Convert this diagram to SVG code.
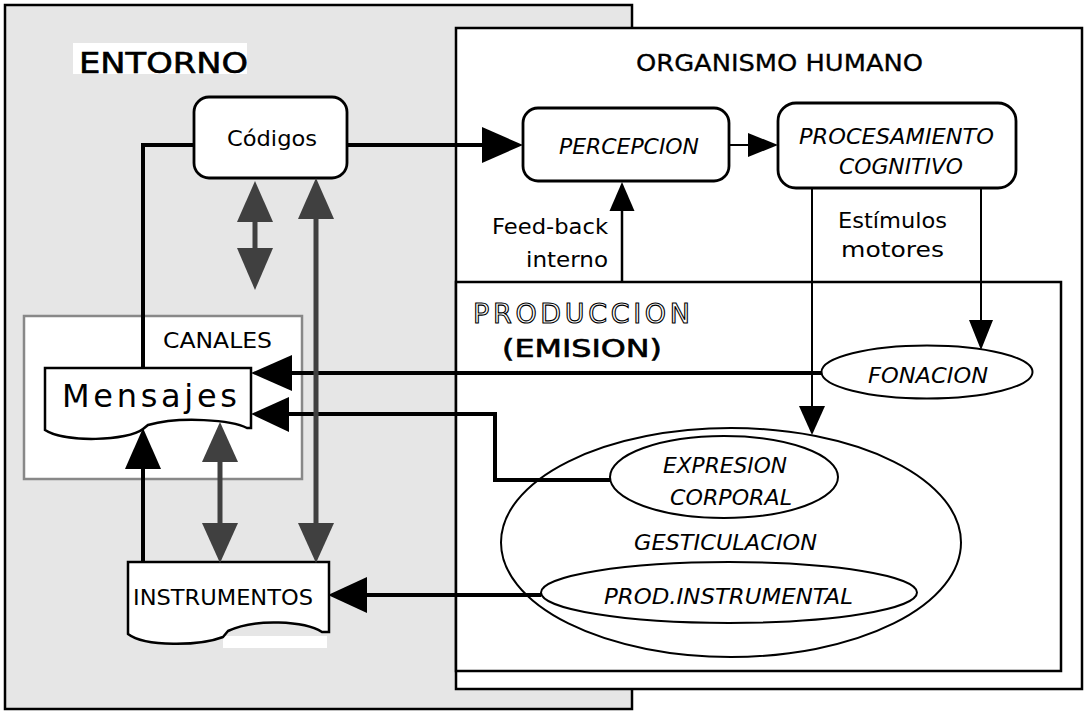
<svg xmlns="http://www.w3.org/2000/svg" width="1088" height="712" viewBox="0 0 1088 712">
<style>
text { font-family: "DejaVu Sans", "Liberation Sans", sans-serif; fill: #000; }
.it { font-style: italic; }
.semi { stroke: #000; stroke-width: 0.6; }
.outline { fill: #fff; stroke: #000; stroke-width: 1.1; }
.box { fill: #fff; stroke: #000; stroke-width: 2.8; }
.ell { fill: #fff; stroke: #000; stroke-width: 2; }
.thick { fill: none; stroke: #000; stroke-width: 4; }
.thin { fill: none; stroke: #000; stroke-width: 2; }
.gray { fill: none; stroke: #404040; stroke-width: 5; }
.head { fill: #000; }
.ghead { fill: #404040; }
</style>

<g id="entorno">
  <rect x="5" y="5" width="627" height="704" fill="#e6e6e6" stroke="#000" stroke-width="2.5"/>
  <rect x="73" y="43" width="174" height="31" fill="#fff"/>
  <text x="79" y="73" font-size="28" class="semi" textLength="169" lengthAdjust="spacingAndGlyphs">ENTORNO</text>
</g>

<g id="organismo">
  <rect x="456" y="28" width="626" height="661" fill="#fff" stroke="#000" stroke-width="2.5"/>
  <text x="636" y="71" font-size="23" class="semi" style="stroke-width:0.3" textLength="287" lengthAdjust="spacingAndGlyphs">ORGANISMO HUMANO</text>
</g>

<g id="produccion">
  <rect x="456" y="282" width="605" height="389" fill="#fff" stroke="#000" stroke-width="2.5"/>
  <text x="473" y="323" font-size="27" class="outline" textLength="217" lengthAdjust="spacing">PRODUCCION</text>
  <text x="502" y="357" font-size="24" class="semi" textLength="160" lengthAdjust="spacingAndGlyphs">(EMISION)</text>
</g>

<g id="canales">
  <rect x="24" y="316" width="278" height="163" fill="#fff" stroke="#888" stroke-width="2.5"/>
  <text x="163" y="348" font-size="21" textLength="109" lengthAdjust="spacingAndGlyphs">CANALES</text>
</g>

<g id="codigos">
  <rect x="194" y="97" width="153" height="81" rx="15" class="box"/>
  <text x="227" y="146" font-size="22" textLength="90" lengthAdjust="spacingAndGlyphs">Códigos</text>
</g>

<g id="percepcion">
  <rect x="523" y="108" width="206" height="73" rx="15" class="box"/>
  <text x="559" y="154" font-size="22" class="it" textLength="140" lengthAdjust="spacingAndGlyphs">PERCEPCION</text>
</g>

<g id="procesamiento">
  <rect x="778" y="103" width="238" height="85" rx="18" class="box"/>
  <text x="799" y="144" font-size="22" class="it" textLength="195" lengthAdjust="spacingAndGlyphs">PROCESAMIENTO</text>
  <text x="839" y="174" font-size="22" class="it" textLength="124" lengthAdjust="spacingAndGlyphs">COGNITIVO</text>
</g>

<g id="gesticulacion">
  <ellipse cx="731" cy="542.5" rx="230" ry="114.5" fill="none" stroke="#000" stroke-width="2"/>
  <text x="634" y="550" font-size="22" class="it" textLength="183" lengthAdjust="spacingAndGlyphs">GESTICULACION</text>
</g>

<g id="mensajes">
  <path d="M45,368 H251 V428 H247 C232,420 180,416 148,425 L143,429 C128,441 65,443 45,430 Z" fill="#fff" stroke="#000" stroke-width="2.5"/>
  <text x="62" y="407" font-size="32" textLength="175" lengthAdjust="spacing">Mensajes</text>
</g>

<g id="instrumentos">
  <rect x="223" y="636" width="104" height="12" fill="#fff"/>
  <path d="M128,562 H329 V632 H322 C305,621 255,618 228,631 L223,637 C200,646 145,647 128,634 Z" fill="#fff" stroke="#000" stroke-width="2.5"/>
  <text x="133" y="605" font-size="22" textLength="180" lengthAdjust="spacingAndGlyphs">INSTRUMENTOS</text>
</g>

<g id="connectors">
  <polyline points="194,145 143,145 143,368" class="thick"/>
  <line x1="347" y1="145" x2="483" y2="145" class="thick"/>
  <polygon points="523,145 482,127 482,163" class="head"/>
  <line x1="729" y1="145" x2="749" y2="145" class="thin"/>
  <polygon points="778,145 748,133 748,157" class="head"/>
  <line x1="622" y1="282" x2="622" y2="210" stroke="#000" stroke-width="2.5"/>
  <polygon points="622,182 609.5,211 634.5,211" class="head"/>
  <text x="492" y="234" font-size="21" textLength="116" lengthAdjust="spacingAndGlyphs">Feed-back</text>
  <text x="526" y="267" font-size="21" textLength="82" lengthAdjust="spacingAndGlyphs">interno</text>
  <line x1="812" y1="188" x2="812" y2="407" class="thin"/>
  <polygon points="812,435 799,406 825,406" class="head"/>
  <line x1="981" y1="188" x2="981" y2="321" class="thin"/>
  <polygon points="981,350 969,320 993,320" class="head"/>
  <text x="838" y="228" font-size="22" textLength="109" lengthAdjust="spacingAndGlyphs">Estímulos</text>
  <text x="841" y="257" font-size="22" textLength="103" lengthAdjust="spacingAndGlyphs">motores</text>
  <line x1="822" y1="373" x2="291" y2="373" class="thick"/>
  <polygon points="251,373 292,355 292,391" class="head"/>
  <polyline points="610,480 495,480 495,414 288,414" class="thick"/>
  <polygon points="251,414 289,397 289,432" class="head"/>
  <line x1="541" y1="595" x2="366" y2="595" class="thick"/>
  <polygon points="328,595 367,577 367,613" class="head"/>
  <line x1="143" y1="562" x2="143" y2="468" class="thick"/>
  <polygon points="143,428 125,469 161,469" class="head"/>
  <line x1="255" y1="221" x2="255" y2="249" class="gray"/>
  <polygon points="255,181 237,222 273,222" class="ghead"/>
  <polygon points="237,248 273,248 255,290" class="ghead"/>
  <line x1="316" y1="218" x2="316" y2="524" class="gray"/>
  <polygon points="316,178 298,219 334,219" class="ghead"/>
  <polygon points="298,523 334,523 316,563" class="ghead"/>
  <line x1="220" y1="461" x2="220" y2="524" class="gray"/>
  <polygon points="220,422 202,462 238,462" class="ghead"/>
  <polygon points="202,523 238,523 220,563" class="ghead"/>
</g>

<g id="fonacion">
  <ellipse cx="927" cy="372" rx="105.5" ry="26.5" class="ell"/>
  <text x="868" y="383" font-size="22" class="it" textLength="120" lengthAdjust="spacingAndGlyphs">FONACION</text>
</g>

<g id="expresion">
  <ellipse cx="724" cy="477" rx="114" ry="41" class="ell"/>
  <text x="663" y="473" font-size="22" class="it" textLength="124" lengthAdjust="spacingAndGlyphs">EXPRESION</text>
  <text x="670" y="505" font-size="22" class="it" textLength="122" lengthAdjust="spacingAndGlyphs">CORPORAL</text>
</g>

<g id="prodinstrumental">
  <ellipse cx="729" cy="592.5" rx="188" ry="30.5" class="ell"/>
  <text x="604" y="604" font-size="22" class="it" textLength="249" lengthAdjust="spacingAndGlyphs">PROD.INSTRUMENTAL</text>
</g>
</svg>
